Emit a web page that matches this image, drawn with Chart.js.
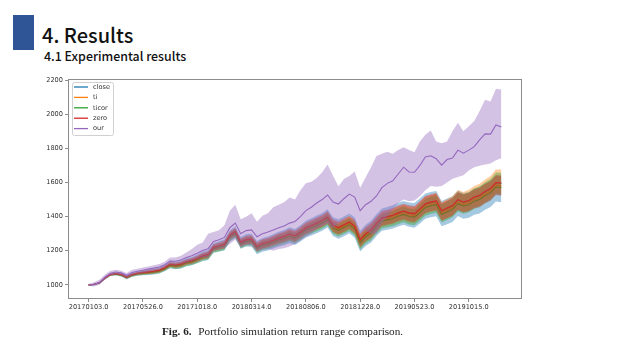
<!DOCTYPE html>
<html>
<head>
<meta charset="utf-8">
<script src="https://cdn.jsdelivr.net/npm/chart.js@4.4.1/dist/chart.umd.min.js"></script>
<style>
  html, body { margin: 0; padding: 0; background: #fff; }
  #page { position: relative; width: 640px; height: 360px; overflow: hidden; }
  #mark { position: absolute; left: 13px; top: 15px; width: 21px; height: 35px; background: #2f5597; }
  #title { position: absolute; left: 42px; top: 20px; line-height: 20px; font: 500 20px "Noto Sans CJK KR", "Noto Sans", sans-serif; color: #111; white-space: nowrap; }
  #subtitle { position: absolute; left: 44px; top: 47px; line-height: 13px; font: 500 12.4px "Noto Sans CJK KR", "Noto Sans", sans-serif; color: #111; white-space: nowrap; }
  #caption { position: absolute; left: 162px; top: 325px; line-height: 12px; font: 11.2px "Liberation Serif", serif; color: #222; white-space: nowrap; }
  #caption b { margin-right: 4px; }
  #figure { position: absolute; left: 0; top: 0; }
</style>
</head>
<body>
<div id="page">
  <div id="mark"></div>
  <div id="title">4. Results</div>
  <div id="subtitle">4.1 Experimental results</div>
  <canvas id="figure" width="640" height="360"></canvas>
  <div id="caption"><b>Fig. 6.</b> Portfolio simulation return range comparison.</div>
</div>
<script>
// Tick labels on the x axis (one every 10 samples)
const dateTicks = [0, 10, 20, 30, 40, 50, 60, 70];
const dateLabels = ['20170103.0', '20170526.0', '20171018.0', '20180314.0',
                    '20180806.0', '20181228.0', '20190523.0', '20191015.0'];
const valueTicks = [1000, 1200, 1400, 1600, 1800, 2000, 2200];

const seriesNames = ['close', 'ti', 'ticor', 'zero', 'our'];
const seriesColors = ['#1f77b4', '#ff7f0e', '#2ca02c', '#d62728', '#9467bd'];

// Mean portfolio value per sample
const closeMean = [1000,1003,1012,1040,1060,1065,1060,1045,1060,1068,
  1072,1076,1080,1086,1100,1120,1116,1122,1135,1142,
  1155,1170,1178,1220,1228,1238,1290,1312,1250,1265,
  1265,1222,1239,1247,1259,1272,1282,1295,1285,1307,
  1332,1345,1360,1375,1395,1347,1333,1349,1366,1342,
  1262,1297,1319,1357,1389,1397,1405,1419,1430,1419,
  1415,1442,1472,1482,1489,1432,1447,1462,1497,1483,
  1492,1512,1522,1545,1562,1597,1594];
const tiMean = [1000,1003,1012,1039,1059,1064,1059,1044,1058,1066,
  1070,1074,1078,1083,1097,1117,1113,1119,1131,1138,
  1151,1166,1174,1215,1223,1233,1285,1307,1244,1259,
  1262,1219,1236,1243,1255,1268,1278,1291,1280,1302,
  1327,1340,1355,1369,1389,1341,1327,1343,1359,1335,
  1255,1290,1312,1349,1381,1389,1397,1411,1421,1410,
  1406,1433,1463,1472,1479,1422,1437,1452,1486,1472,
  1481,1501,1511,1533,1550,1585,1582];
const ticorMean = [1000,1003,1011,1039,1059,1063,1058,1043,1057,1065,
  1068,1072,1076,1081,1095,1115,1110,1116,1129,1135,
  1148,1163,1170,1212,1220,1229,1281,1303,1240,1255,
  1257,1214,1231,1238,1250,1263,1272,1285,1275,1296,
  1321,1334,1348,1363,1383,1334,1320,1336,1352,1328,
  1247,1282,1304,1341,1373,1381,1388,1402,1413,1401,
  1397,1424,1453,1463,1470,1412,1427,1442,1476,1462,
  1470,1490,1500,1522,1539,1574,1570];
const zeroMean = [1000,1003,1012,1040,1060,1065,1060,1045,1060,1068,
  1072,1076,1080,1086,1100,1120,1116,1122,1135,1142,
  1155,1170,1178,1220,1228,1238,1290,1312,1250,1265,
  1268,1225,1242,1250,1262,1275,1285,1298,1288,1310,
  1335,1348,1363,1378,1398,1350,1336,1352,1369,1345,
  1265,1300,1322,1360,1392,1400,1408,1422,1433,1422,
  1418,1445,1475,1485,1492,1435,1450,1465,1500,1486,
  1495,1515,1525,1548,1565,1600,1597];
const ourMean = [1000,1002,1015,1045,1068,1075,1070,1056,1072,1080,
  1086,1092,1098,1105,1118,1140,1138,1146,1160,1170,
  1185,1202,1212,1255,1265,1278,1335,1362,1300,1318,
  1322,1282,1300,1310,1322,1335,1345,1362,1372,1400,
  1435,1455,1480,1500,1527,1485,1474,1505,1532,1515,
  1435,1470,1490,1521,1570,1595,1610,1650,1690,1662,
  1660,1700,1750,1757,1740,1702,1735,1743,1790,1772,
  1790,1810,1850,1885,1884,1937,1925];

// Width of each shaded range above / below its mean
const closeAbove = [3,4,5,7,7,8,9,10,10,12, 13,14,16,16,17,18,20,21,21,22,
  23,25,26,26,27,29,30,31,31,33, 34,35,36,36,38,39,40,42,42,43,
  44,46,47,47,48,49,51,52,52,53, 55,56,57,57,59,60,61,62,62,64,
  65,64,64,62,61,60,59,58,56,55, 53,52,51,49,48,46,44];
const closeBelow = [3,5,6,8,8,10,11,13,13,14, 16,18,19,19,21,22,24,26,26,27,
  29,30,32,32,34,35,37,38,38,40, 42,43,45,45,46,48,50,51,51,53,
  54,56,58,58,59,61,62,64,64,66, 67,69,70,70,72,74,75,77,77,78,
  80,82,84,85,87,89,91,94,94,96, 99,101,103,104,106,108,110];
const tiAbove = [2,3,4,5,5,6,7,8,8,9, 10,11,12,12,13,14,15,16,16,17,
  18,19,20,20,21,22,23,24,24,25, 26,27,28,28,29,30,31,32,32,33,
  34,35,36,36,37,38,39,40,40,41, 42,43,44,44,45,46,47,48,48,49,
  50,53,55,57,59,63,65,68,70,73, 76,79,82,85,88,91,95];
const tiBelow = [2,3,4,5,5,5,6,7,7,8, 9,10,11,11,12,13,14,14,14,15,
  16,17,18,18,19,20,21,22,22,23, 23,24,25,25,26,27,28,29,29,30,
  31,32,32,32,33,34,35,36,36,37, 38,39,40,40,41,41,42,43,43,44,
  45,45,46,45,45,46,46,46,46,46, 46,46,47,46,46,47,47];
const ticorAbove = [2,3,4,5,5,6,7,8,8,9, 10,10,11,11,12,13,14,15,15,16,
  17,18,19,19,20,21,22,23,23,24, 25,26,27,27,28,29,29,30,30,31,
  32,33,34,34,35,36,37,38,38,39, 40,41,42,42,43,44,45,46,46,47,
  48,50,52,54,56,59,62,64,67,69, 72,75,77,80,82,85,88];
const ticorBelow = [2,3,4,6,6,7,8,9,9,10, 11,12,13,13,14,15,17,18,18,19,
  20,21,22,22,23,24,25,26,26,26, 25,26,27,27,28,29,29,30,30,31,
  32,33,34,34,35,36,37,38,38,39, 40,41,42,42,43,44,45,46,46,47,
  48,48,48,48,47,47,47,46,46,45, 45,45,44,44,44,44,44];
const zeroAbove = [2,3,4,5,5,5,6,7,7,8, 9,10,11,11,12,13,14,14,14,15,
  16,17,18,18,19,20,21,22,22,23, 23,24,25,25,26,27,28,29,29,30,
  31,32,32,32,33,34,35,36,36,37, 38,39,40,40,41,41,42,43,43,44,
  45,45,46,45,45,45,45,45,44,44, 44,44,44,43,43,43,44];
const zeroBelow = [2,3,4,5,5,6,7,8,8,9, 10,11,12,12,13,14,15,16,16,17,
  18,19,20,20,21,22,23,24,24,25, 26,27,28,28,29,30,31,32,32,33,
  34,35,36,36,37,38,39,40,40,41, 42,43,44,44,45,46,47,48,48,49,
  50,52,53,54,55,57,59,60,61,62, 64,66,68,70,71,73,75];

// "our" range, absolute values
const ourHigh = [1005,1015,1030,1060,1082,1088,1082,1070,1088,1095,
  1102,1108,1115,1122,1135,1160,1160,1170,1190,1210,
  1235,1248,1300,1310,1320,1350,1435,1470,1385,1400,
  1420,1370,1405,1420,1455,1470,1485,1512,1500,1555,
  1595,1605,1626,1660,1705,1640,1578,1620,1638,1665,
  1570,1630,1690,1755,1768,1780,1768,1790,1807,1790,
  1778,1840,1880,1905,1840,1830,1840,1900,1950,1900,
  1930,1960,2020,2085,2075,2150,2145];
const ourLow = [995,990,1000,1030,1055,1062,1058,1042,1056,1065,
  1070,1076,1081,1088,1100,1120,1116,1122,1130,1140,
  1150,1160,1160,1200,1210,1215,1240,1265,1220,1235,
  1230,1195,1205,1210,1200,1210,1215,1225,1240,1260,
  1280,1300,1330,1345,1360,1330,1360,1380,1410,1370,
  1300,1320,1300,1300,1360,1400,1440,1480,1500,1490,
  1495,1520,1555,1580,1575,1580,1600,1622,1632,1643,
  1670,1690,1698,1705,1712,1730,1743];

const pts = arr => arr.map((v, i) => ({ x: i, y: v }));
const offset = (mean, delta, sign) => mean.map((m, i) => m + sign * delta[i]);

function alpha(hex, a) {
  const n = parseInt(hex.slice(1), 16);
  return `rgba(${n >> 16}, ${(n >> 8) & 255}, ${n & 255}, ${a})`;
}

const series = [
  { mean: closeMean, lo: offset(closeMean, closeBelow, -1), hi: offset(closeMean, closeAbove, 1) },
  { mean: tiMean, lo: offset(tiMean, tiBelow, -1), hi: offset(tiMean, tiAbove, 1) },
  { mean: ticorMean, lo: offset(ticorMean, ticorBelow, -1), hi: offset(ticorMean, ticorAbove, 1) },
  { mean: zeroMean, lo: offset(zeroMean, zeroBelow, -1), hi: offset(zeroMean, zeroAbove, 1) },
  { mean: ourMean, lo: ourLow, hi: ourHigh }
];

// low edge, high edge (filled down to low) and mean line for each series;
// later series sit on top like in the original plot
const datasets = [];
series.forEach((s, k) => {
  const base = datasets.length;
  const layer = (series.length - k) * 3;
  const color = seriesColors[k];
  datasets.push({ data: pts(s.lo), borderColor: 'rgba(0,0,0,0)', borderWidth: 1, pointRadius: 0, fill: false, order: layer + 2 });
  datasets.push({ data: pts(s.hi), borderColor: 'rgba(0,0,0,0)', borderWidth: 1, pointRadius: 0,
                  backgroundColor: alpha(color, 0.4), fill: base, order: layer + 1 });
  datasets.push({ label: seriesNames[k], data: pts(s.mean), borderColor: color, borderWidth: 1.1,
                  pointRadius: 0, fill: false, order: layer });
});

// frame on all four sides and a matplotlib-like legend in the upper left
const frameAndLegend = {
  id: 'frameAndLegend',
  afterDraw(chart) {
    const { ctx, chartArea: a } = chart;
    ctx.save();
    ctx.strokeStyle = '#8c8c8c';
    ctx.lineWidth = 1;
    ctx.strokeRect(a.left + 0.5, a.top + 0.5, a.right - a.left - 1, a.bottom - a.top - 1);

    const x = a.left + 4, y = a.top + 3, w = 41, h = 53;
    ctx.fillStyle = 'rgba(255,255,255,0.85)';
    ctx.strokeStyle = '#d0d0d0';
    ctx.beginPath();
    ctx.roundRect(x + 0.5, y + 0.5, w, h, 2);
    ctx.fill();
    ctx.stroke();

    ctx.font = '6.6px "DejaVu Sans"';
    ctx.textBaseline = 'middle';
    ctx.lineWidth = 1.3;
    seriesNames.forEach((name, k) => {
      const ry = y + 5 + k * 10.4;
      ctx.strokeStyle = seriesColors[k];
      ctx.beginPath();
      ctx.moveTo(x + 2, ry);
      ctx.lineTo(x + 16, ry);
      ctx.stroke();
      ctx.fillStyle = '#333';
      ctx.fillText(name, x + 21, ry);
    });
    ctx.restore();
  }
};

const tickFont = { family: 'DejaVu Sans', size: 6.6 };

new Chart(document.getElementById('figure').getContext('2d'), {
  type: 'line',
  data: { datasets },
  options: {
    responsive: false,
    animation: false,
    devicePixelRatio: 1,
    layout: { padding: { left: 44, right: 118, top: 79, bottom: 45 } },
    plugins: { legend: { display: false }, tooltip: { enabled: false } },
    elements: { line: { tension: 0 } },
    scales: {
      x: {
        type: 'linear',
        min: -3.8,
        max: 79.8,
        afterBuildTicks: s => { s.ticks = dateTicks.map(v => ({ value: v })); },
        afterFit: s => { s.height = 16; },
        ticks: { callback: (v, i) => dateLabels[i], font: tickFont, color: '#333',
                 padding: 1, maxRotation: 0, autoSkip: false },
        grid: { drawOnChartArea: false, drawTicks: true, tickLength: 3, color: '#8c8c8c' },
        border: { display: false }
      },
      y: {
        min: 917,
        max: 2207,
        afterBuildTicks: s => { s.ticks = valueTicks.map(v => ({ value: v })); },
        afterFit: s => { s.width = 24; },
        ticks: { callback: v => String(v), font: tickFont, color: '#333', padding: 2 },
        grid: { drawOnChartArea: false, drawTicks: true, tickLength: 3, color: '#8c8c8c' },
        border: { display: false }
      }
    }
  },
  plugins: [frameAndLegend]
});
</script>
</body>
</html>
